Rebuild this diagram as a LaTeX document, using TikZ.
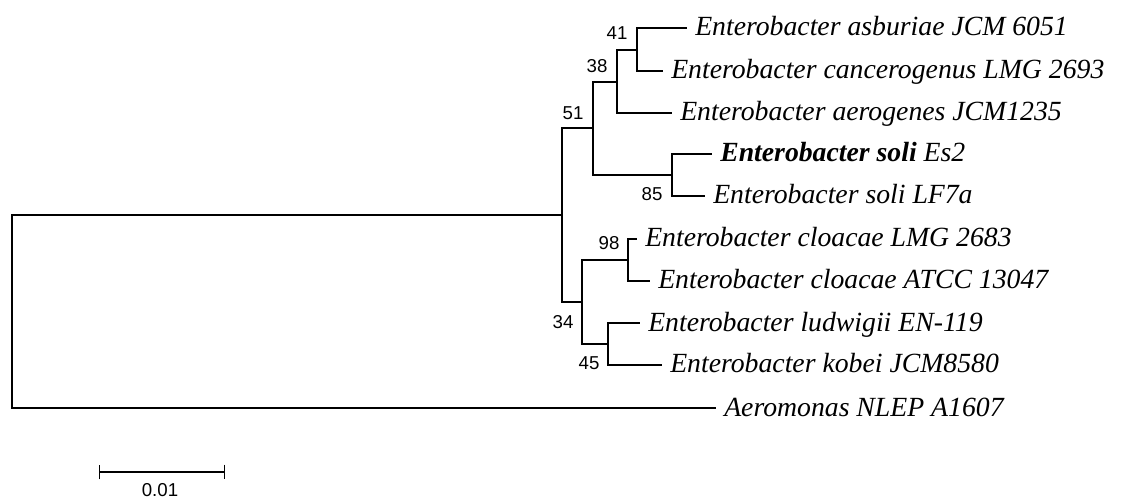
\documentclass[tikz,border=0pt]{standalone}
\usepackage{fontspec}
\setmainfont{Liberation Serif}
\newfontfamily\numfont{Liberation Sans}
\usetikzlibrary{arrows.meta}

\begin{document}
\begin{tikzpicture}[x=0.75pt,y=-0.75pt,
	branch/.style={line width=1pt},
	taxon/.style={anchor=base west, inner sep=0pt, xshift=6pt, yshift=-6pt, font=\fontsize{20.8}{24}\selectfont\itshape},
	boot/.style={inner sep=0pt, font=\fontsize{14}{16}\selectfont\numfont}]
	\useasboundingbox (0,0) rectangle (1121,502);

	% inner nodes of the tree
	\coordinate (root) at (12,311.5);
	\coordinate (nin) at (562,215);
	\coordinate (n51) at (593,128);
	\coordinate (n38) at (617,82);
	\coordinate (n41) at (637,50);
	\coordinate (n85) at (672,175);
	\coordinate (n34) at (582,302);
	\coordinate (n98) at (628,260);
	\coordinate (n45) at (608,344);

	% tips
	\coordinate (asb) at (687,28);
	\coordinate (can) at (663,71);
	\coordinate (aer) at (672,113);
	\coordinate (es2) at (712,154);
	\coordinate (lf7) at (705,196);
	\coordinate (lmg) at (637,239);
	\coordinate (atc) at (650,281);
	\coordinate (lud) at (640,323);
	\coordinate (kob) at (662,365);
	\coordinate (aeo) at (716,408);

	\node (Tasb) [taxon] at (asb) {Enterobacter asburiae JCM 6051};
	\node (Tcan) [taxon] at (can) {Enterobacter cancerogenus LMG 2693};
	\node (Taer) [taxon] at (aer) {Enterobacter aerogenes JCM1235};
	\node (Tes2) [taxon] at (es2) {{\bfseries Enterobacter soli} Es2};
	\node (Tlf7) [taxon] at (lf7) {Enterobacter soli LF7a};
	\node (Tlmg) [taxon] at (lmg) {Enterobacter cloacae LMG 2683};
	\node (Tatc) [taxon] at (atc) {Enterobacter cloacae ATCC 13047};
	\node (Tlud) [taxon] at (lud) {Enterobacter ludwigii EN-119};
	\node (Tkob) [taxon] at (kob) {Enterobacter kobei JCM8580};
	\node (Taeo) [taxon] at (aeo) {Aeromonas NLEP A1607};

	% branches
	\draw [branch] (root) |- (nin);
	\draw [branch] (root) |- (aeo);
	\draw [branch] (nin) |- (n51);
	\draw [branch] (nin) |- (n34);
	\draw [branch] (n51) |- (n38);
	\draw [branch] (n51) |- (n85);
	\draw [branch] (n38) |- (n41);
	\draw [branch] (n38) |- (aer);
	\draw [branch] (n41) |- (asb);
	\draw [branch] (n41) |- (can);
	\draw [branch] (n85) |- (es2);
	\draw [branch] (n85) |- (lf7);
	\draw [branch] (n34) |- (n98);
	\draw [branch] (n34) |- (n45);
	\draw [branch] (n98) |- (lmg);
	\draw [branch] (n98) |- (atc);
	\draw [branch] (n45) |- (lud);
	\draw [branch] (n45) |- (kob);

	% bootstrap values
	\node (b41) [boot] at (617,33) {41};
	\node (b38) [boot] at (597,66) {38};
	\node (b51) [boot] at (573,113) {51};
	\node (b85) [boot] at (652,194) {85};
	\node (b98) [boot] at (609,243) {98};
	\node (b34) [boot] at (563,322) {34};
	\node (b45) [boot] at (589,363) {45};

	% scale bar
	\coordinate (s1) at (99,472);
	\coordinate (s2) at (225,472);
	\draw [branch, {Bar[width=11pt]}-{Bar[width=11pt]}] (s1) -- (s2);
	\node (sl) [boot] at (160,490) {0.01};

\end{tikzpicture}
\end{document}
